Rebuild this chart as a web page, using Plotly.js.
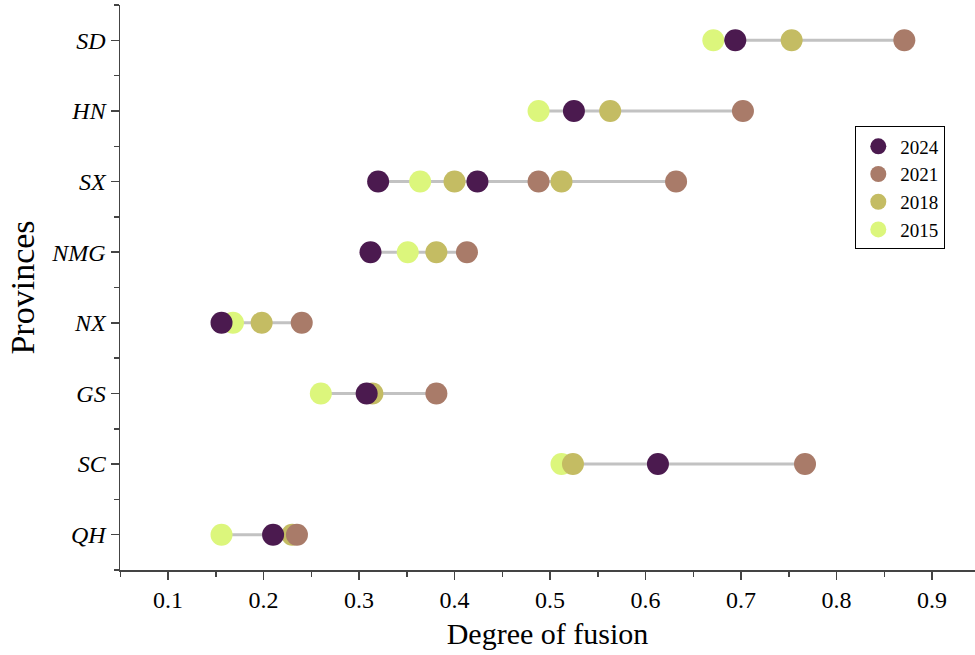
<!DOCTYPE html>
<html>
<head>
<meta charset="utf-8">
<script src="https://cdn.plot.ly/plotly-3.0.1.min.js"></script>
<style>
  html, body { margin: 0; padding: 0; background: #fff; }
  #chart { width: 975px; height: 655px; }
</style>
</head>
<body>
<div id="chart"></div>
<script>
// Provinces shown on the y axis, bottom to top
const provinces = ['QH', 'SC', 'GS', 'NX', 'NMG', 'SX', 'HN', 'SD'];

// One entry per dumbbell row (SX carries two rows)
const rowProvince = ['SD', 'HN', 'SX', 'SX', 'NMG', 'NX', 'GS', 'SC', 'QH'];
const v2015 = [0.671, 0.488, 0.364, null, 0.351, 0.168, 0.260, 0.512, 0.156];
const v2018 = [0.753, 0.563, 0.400, 0.512, 0.381, 0.198, 0.314, 0.524, 0.230];
const v2021 = [0.871, 0.702, 0.488, 0.632, 0.413, 0.240, 0.381, 0.767, 0.235];
const v2024 = [0.694, 0.525, 0.320, 0.424, 0.312, 0.156, 0.308, 0.613, 0.210];

const years = ['2015', '2018', '2021', '2024'];
const series = [v2015, v2018, v2021, v2024];
const colors = ['#dcf67c', '#c4bc63', '#a97b69', '#4b1a4f'];

const yPos = rowProvince.map(p => provinces.indexOf(p));

// Grey connector from each row's minimum to maximum
const lx = [], ly = [];
rowProvince.forEach((p, i) => {
  const vals = series.map(s => s[i]).filter(v => v !== null);
  lx.push(Math.min(...vals), Math.max(...vals), null);
  ly.push(yPos[i], yPos[i], null);
});

const traces = [{
  x: lx, y: ly, mode: 'lines', type: 'scatter',
  line: { color: '#c2c2c2', width: 3 },
  hoverinfo: 'skip', showlegend: false
}];

years.forEach((yr, k) => {
  traces.push({
    x: series[k], y: yPos, name: yr, mode: 'markers', type: 'scatter',
    marker: { color: colors[k], size: 22, line: { width: 0 } }
  });
});

const serif = 'Liberation Serif, Times New Roman, serif';

const layout = {
  width: 975, height: 655,
  margin: { l: 120, r: 0, t: 5, b: 85 },
  paper_bgcolor: '#fff', plot_bgcolor: '#fff',
  font: { family: serif, color: '#000' },
  showlegend: true,
  legend: {
    x: 0.86, y: 0.785, xanchor: 'left', yanchor: 'top',
    traceorder: 'reversed',
    bordercolor: '#000', borderwidth: 1, bgcolor: '#fff',
    font: { family: serif, size: 19, color: '#000' },
    itemwidth: 34, tracegroupgap: 0
  },
  xaxis: {
    range: [0.0497, 0.945],
    showgrid: false, zeroline: false,
    showline: true, linecolor: '#444', linewidth: 1.5,
    ticks: 'outside', ticklen: 8, tickwidth: 1.5, tickcolor: '#444',
    tick0: 0.1, dtick: 0.1, tickformat: '.1f',
    minor: { ticks: 'outside', ticklen: 5, tickwidth: 1.5, tickcolor: '#444', dtick: 0.05 },
    tickfont: { family: serif, size: 24, color: '#000' },
    title: { text: 'Degree of fusion', font: { family: serif, size: 30, color: '#000' }, standoff: 10 }
  },
  yaxis: {
    range: [-0.5, 7.5],
    showgrid: false, zeroline: false,
    showline: true, linecolor: '#444', linewidth: 1.5,
    ticks: 'outside', ticklen: 8, tickwidth: 1.5, tickcolor: '#444',
    tickmode: 'array',
    tickvals: provinces.map((p, i) => i),
    ticktext: provinces.map(p => '<i>' + p + '</i>'),
    minor: { ticks: 'outside', ticklen: 5, tickwidth: 1.5, tickcolor: '#444', tick0: 0.5, dtick: 1 },
    tickfont: { family: serif, size: 24, color: '#000' },
    title: { text: 'Provinces', font: { family: serif, size: 34, color: '#000' }, standoff: 6 }
  }
};

Plotly.newPlot('chart', traces, layout, { displayModeBar: false, staticPlot: true });
</script>
</body>
</html>
